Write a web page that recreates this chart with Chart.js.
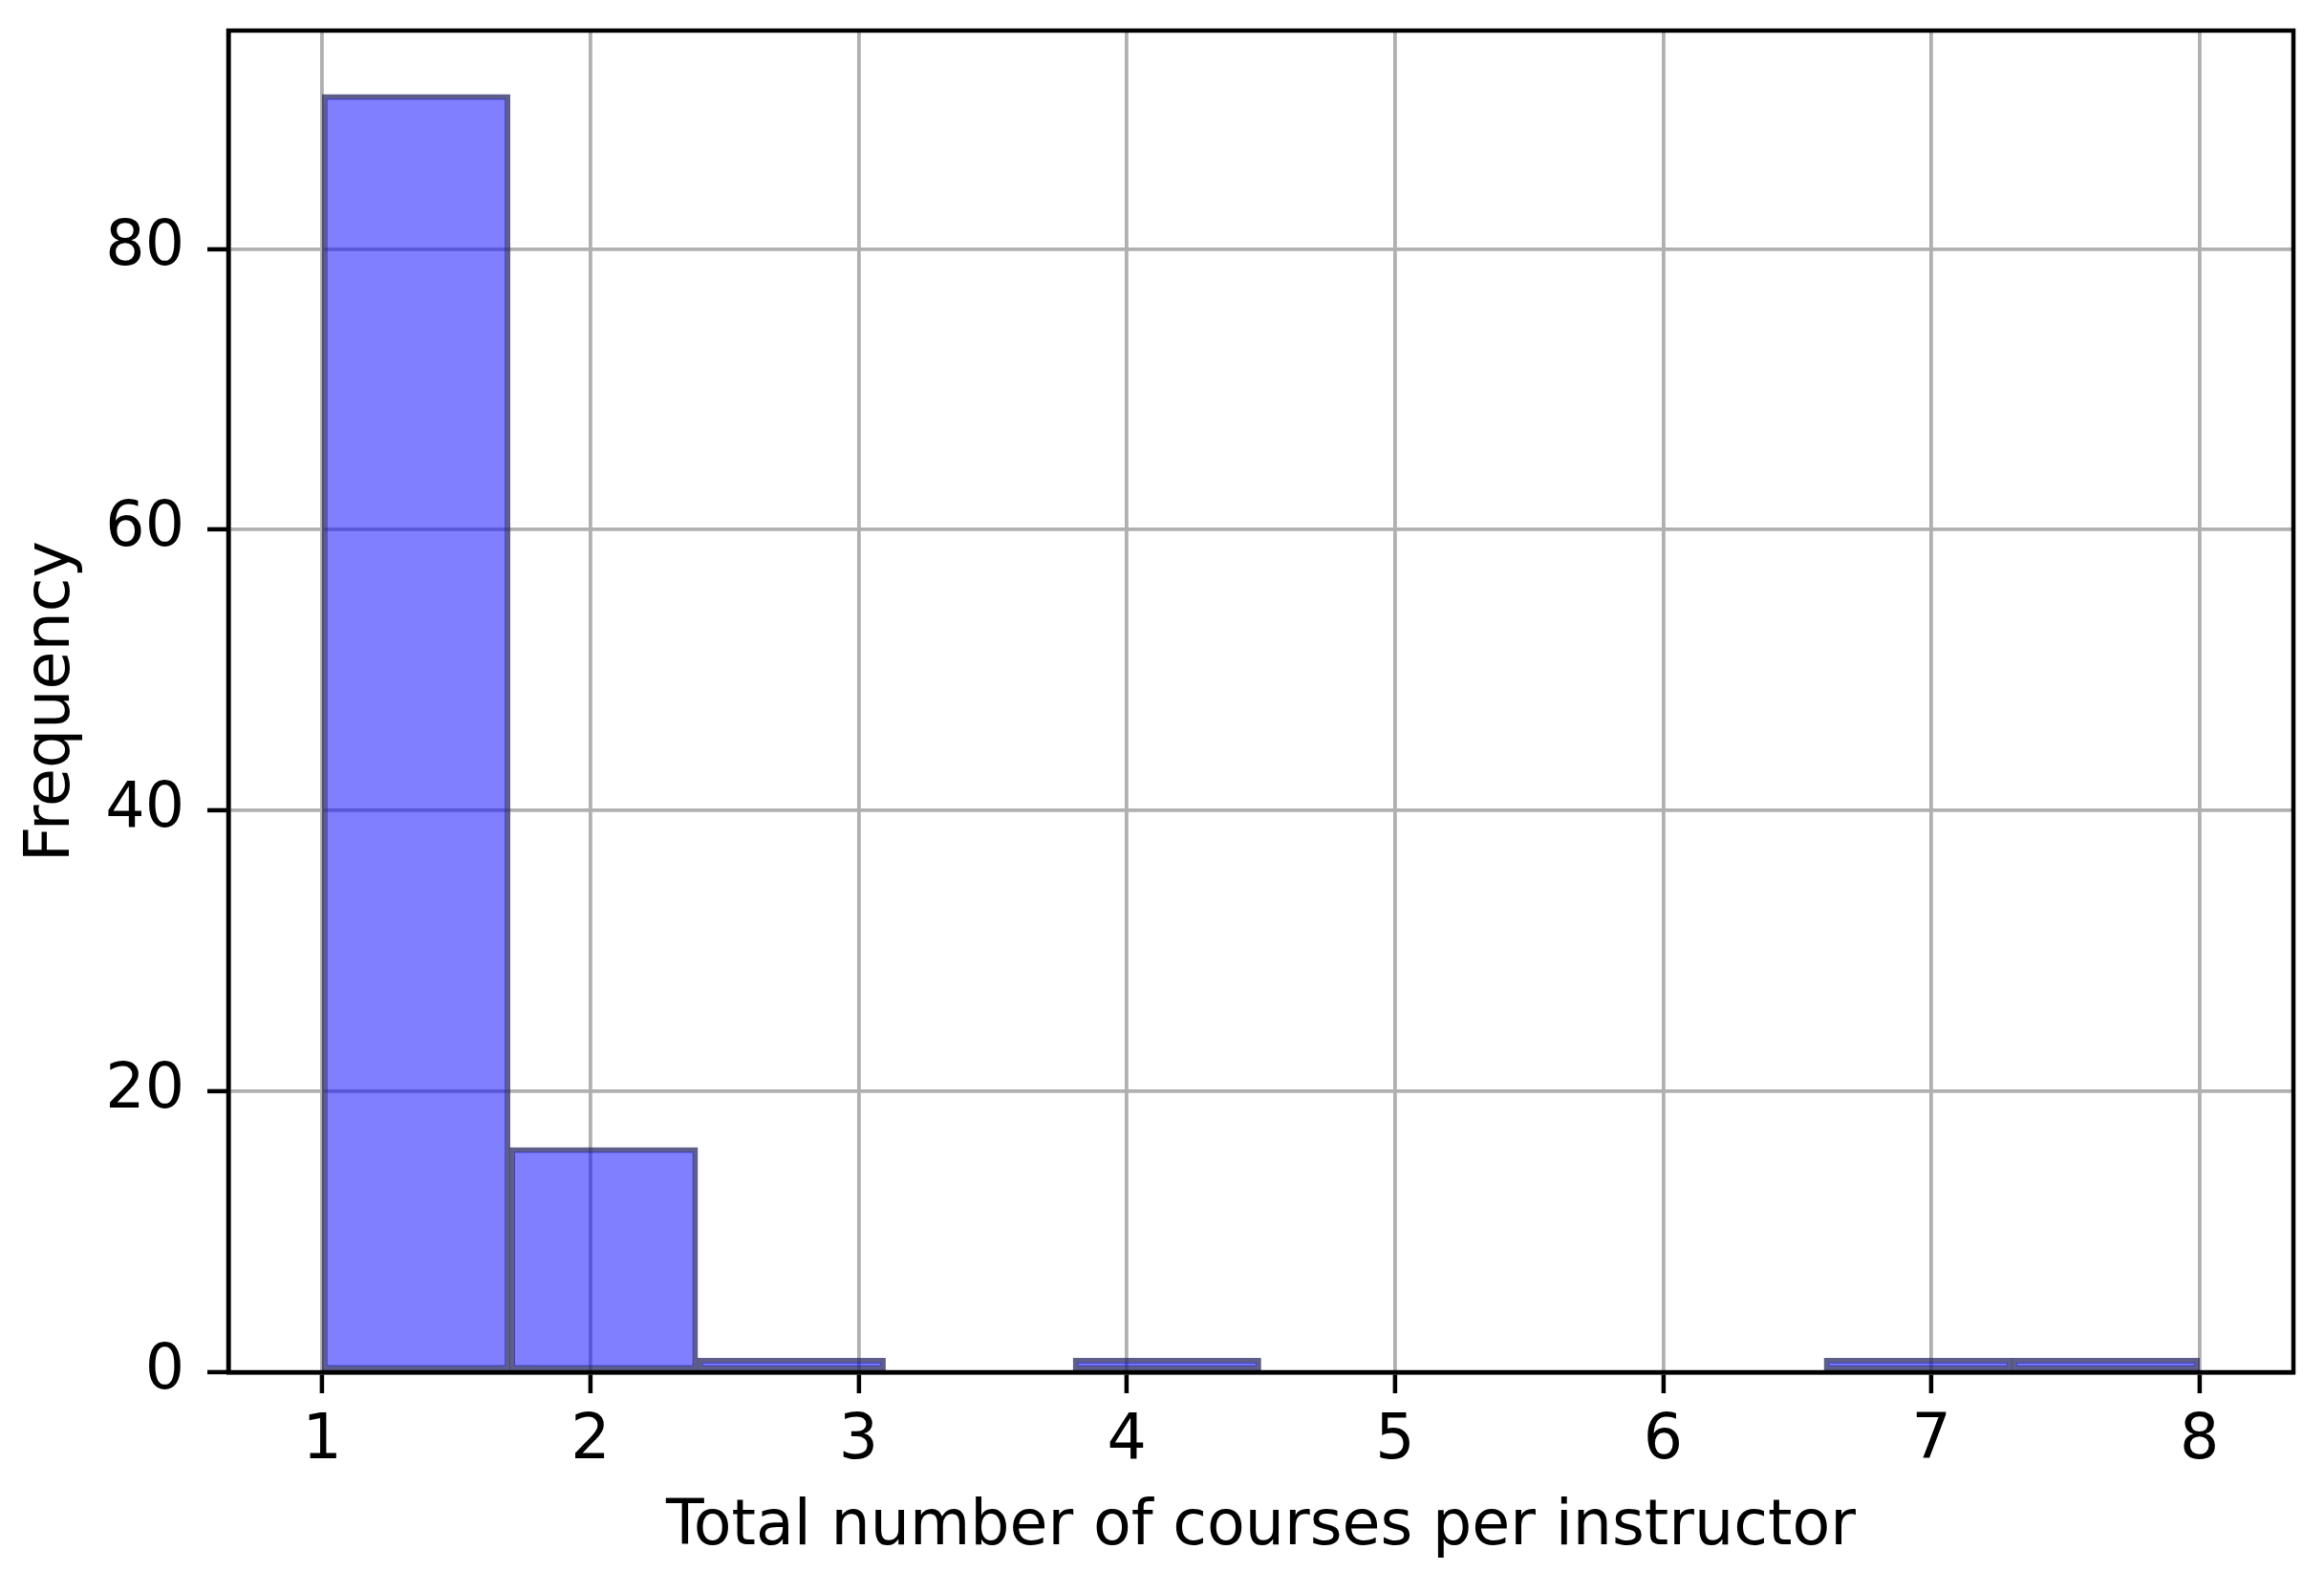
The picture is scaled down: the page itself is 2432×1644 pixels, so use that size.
<!DOCTYPE html>
<html>
<head>
<meta charset="utf-8">
<script src="https://cdn.jsdelivr.net/npm/chart.js@4"></script>
<style>
  body { margin: 0; background: #fff; }
  #wrap { width: 2432px; height: 1644px; }
</style>
</head>
<body>
<div id="wrap"><canvas id="histChart"></canvas></div>
<script>
// histogram of courses per instructor (10 bins between 1 and 8)
const binEdges = [1, 1.7, 2.4, 3.1, 3.8, 4.5, 5.2, 5.9, 6.6, 7.3, 8];
const binCounts = [91, 16, 1, 0, 1, 0, 0, 0, 1, 1];
const xTicks = [1, 2, 3, 4, 5, 6, 7, 8];
const yTicks = [0, 20, 40, 60, 80];
const xLimits = [0.65, 8.35];
const yLimits = [0, 95.55];

const histData = binCounts.map((c, i) => ({
  x: (binEdges[i] + binEdges[i + 1]) / 2,
  y: c,
}));

const font = { family: "'DejaVu Sans', sans-serif", size: 65 };

// matplotlib style frame on all four sides
const frame = {
  id: "frame",
  afterDraw(chart) {
    const { ctx, chartArea: a } = chart;
    ctx.save();
    ctx.strokeStyle = "#000";
    ctx.lineWidth = 4.5;
    ctx.strokeRect(a.left, a.top, a.right - a.left, a.bottom - a.top);
    ctx.restore();
  },
};

new Chart(document.getElementById("histChart"), {
  type: "bar",
  data: {
    datasets: [
      {
        label: "Frequency",
        data: histData,
        backgroundColor: "rgba(0, 0, 255, 0.5)",
        borderColor: "rgba(40, 40, 100, 0.75)",
        borderWidth: 5,
        borderSkipped: false,
        barPercentage: 1,
        categoryPercentage: 1,
      },
    ],
  },
  options: {
    responsive: true,
    maintainAspectRatio: false,
    animation: false,
    layout: { padding: { left: 0, right: 32, top: 32, bottom: 0 } },
    plugins: {
      legend: { display: false },
      tooltip: { enabled: false },
    },
    scales: {
      x: {
        type: "linear",
        min: xLimits[0],
        max: xLimits[1],
        offset: false,
        z: 1,
        afterBuildTicks: (s) => { s.ticks = xTicks.map((v) => ({ value: v })); },
        afterFit: (s) => {
          s.height = 208;
          s.paddingLeft = 0;
          s.paddingRight = 0;
        },
        grid: {
          offset: false,
          color: "#b0b0b0",
          lineWidth: 3.8,
          tickColor: "#000",
          tickWidth: 4.5,
          tickLength: 22,
        },
        border: { color: "#000", width: 4.5 },
        ticks: { color: "#000", font, padding: 12, maxRotation: 0 },
        title: {
          display: true,
          text: "Total number of courses per instructor",
          color: "#000",
          font,
          padding: { top: 0, bottom: 6 },
        },
      },
      y: {
        min: yLimits[0],
        max: yLimits[1],
        z: 1,
        afterBuildTicks: (s) => { s.ticks = yTicks.map((v) => ({ value: v })); },
        afterFit: (s) => {
          s.width = 239;
          s.paddingTop = 0;
          s.paddingBottom = 0;
        },
        grid: {
          color: "#b0b0b0",
          lineWidth: 3.8,
          tickColor: "#000",
          tickWidth: 4.5,
          tickLength: 22,
        },
        border: { color: "#000", width: 4.5 },
        ticks: { color: "#000", font, padding: 24 },
        title: {
          display: true,
          text: "Frequency",
          color: "#000",
          font,
          padding: { top: 16, bottom: 0 },
        },
      },
    },
  },
  plugins: [frame],
});
</script>
</body>
</html>
